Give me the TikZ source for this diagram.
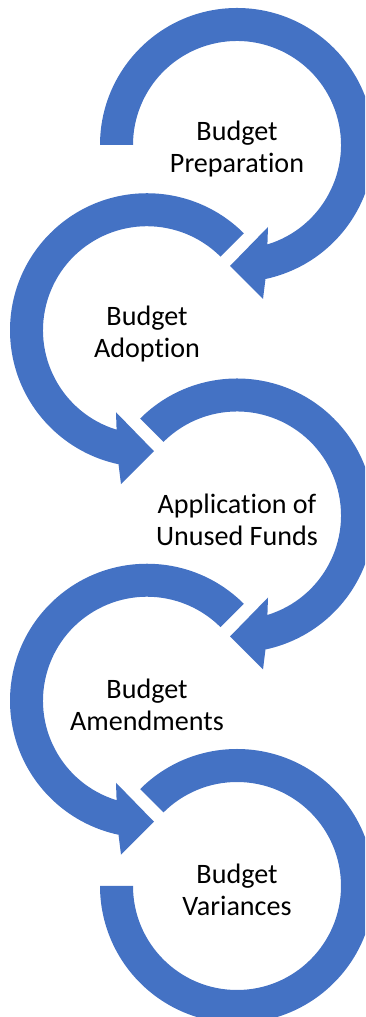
\documentclass[tikz,border=0pt]{standalone}
\usepackage{fontspec}
\setmainfont{Carlito}[Ligatures=NoCommon]
\definecolor{ringblue}{HTML}{4472C4}

\begin{document}
\begin{tikzpicture}[
    x=0.02cm,
    y=0.02cm,
    ring/.style={
        fill=ringblue,
        draw=none
    },
    stage/.style={
        font=\fontsize{16pt}{18.2pt}\selectfont,
        align=center,
        text=black,
        inner sep=0pt,
        yshift=-0.08cm
    }
]
\useasboundingbox (0,0) rectangle (365,1017);
\clip (0,0) rectangle (365,1017);

% Stage 1
\begin{scope}[shift={(237,872)}]
\node[stage] (prep) at (0,0) {Budget\\Preparation};
\fill[ring] (180:137) arc[start angle=180, end angle=-78, radius=137] -- (26,-154) -- (-7,-121) -- (31,-82) -- (-73:104) arc[start angle=-73, end angle=180, radius=104] -- cycle;
\end{scope}

% Stage 2
\begin{scope}[shift={(147,686.75)}]
\node[stage] (adopt) at (0,0) {Budget\\Adoption};
\fill[ring] (45:137) arc[start angle=45, end angle=258, radius=137] -- (-26,-154) -- (7,-121) -- (-31,-82) -- (253:104) arc[start angle=253, end angle=45, radius=104] -- cycle;
\end{scope}

% Stage 3
\begin{scope}[shift={(237,501.5)}]
\node[stage] (unused) at (0,0) {Application of\\Unused Funds};
\fill[ring] (135:137) arc[start angle=135, end angle=-78, radius=137] -- (26,-154) -- (-7,-121) -- (31,-82) -- (-73:104) arc[start angle=-73, end angle=135, radius=104] -- cycle;
\end{scope}

% Stage 4
\begin{scope}[shift={(147,316.25)}]
\node[stage] (amend) at (0,0) {Budget\\Amendments};
\fill[ring] (45:137) arc[start angle=45, end angle=258, radius=137] -- (-26,-154) -- (7,-121) -- (-31,-82) -- (253:104) arc[start angle=253, end angle=45, radius=104] -- cycle;
\end{scope}

% Stage 5
\begin{scope}[shift={(237,131)}]
\node[stage] (var) at (0,0) {Budget\\Variances};
\fill[ring] (135:137) arc[start angle=135, end angle=-180, radius=137] -- (180:104) arc[start angle=-180, end angle=135, radius=104] -- cycle;
\end{scope}

\end{tikzpicture}
\end{document}
